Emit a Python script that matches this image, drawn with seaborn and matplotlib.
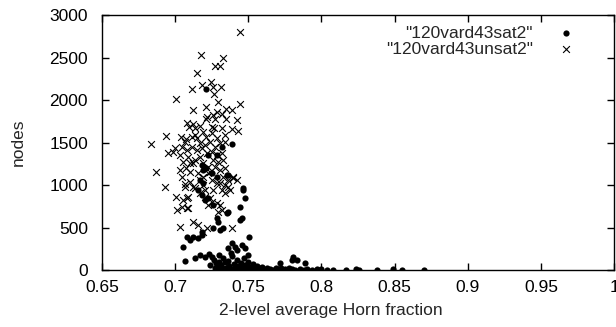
import pandas as pd
import matplotlib
matplotlib.use("Agg")
import matplotlib.pyplot as plt
import seaborn as sns

# "120vard43unsat2" points (Horn fraction, nodes)
unsat_x = [
    0.7443, 0.7174, 0.7324, 0.7147, 0.7272, 0.7306, 0.7113, 0.7181, 0.7243, 0.7260,
    0.7313, 0.7265, 0.7005, 0.7290, 0.7443, 0.7124, 0.7208, 0.7345, 0.7390, 0.7283,
    0.7322, 0.7215, 0.7256, 0.7208, 0.7272, 0.7083, 0.7124, 0.7169, 0.7345, 0.7424,
    0.7250, 0.7267, 0.7322, 0.7390, 0.7431, 0.7094, 0.7135, 0.6937, 0.7040, 0.7113,
    0.7074, 0.7147, 0.7208, 0.6833, 0.6999, 0.7044, 0.7067, 0.7135, 0.6953, 0.7033,
    0.7078, 0.7113, 0.7055, 0.7101, 0.7135, 0.7169, 0.7204, 0.7238, 0.7272, 0.7306,
    0.7340, 0.7215, 0.7250, 0.7283, 0.7317, 0.7260, 0.7294, 0.7328, 0.7272, 0.7306,
    0.7340, 0.7238, 0.7328, 0.7363, 0.7397, 0.7420, 0.7169, 0.7192, 0.7124, 0.7067,
    0.6930, 0.6867, 0.6987, 0.7003, 0.7014, 0.7044, 0.7090, 0.7033, 0.7124, 0.7158,
    0.7215, 0.7283, 0.7306, 0.7386, 0.7397, 0.7374, 0.7340, 0.7306, 0.7340, 0.7363,
    0.7169, 0.7204, 0.7238, 0.7250, 0.7226, 0.7055, 0.7078, 0.7090, 0.7078, 0.7192,
    0.7294, 0.7317, 0.7158, 0.7192, 0.7226, 0.7250, 0.7283, 0.7204, 0.7260, 0.7317,
    0.7226, 0.7192, 0.7169, 0.7147, 0.7181, 0.7090, 0.7124, 0.7283, 0.7249, 0.7192,
    0.7339, 0.7074, 0.7101, 0.7044, 0.7067, 0.7101, 0.7136, 0.7033,
]
unsat_y = [
    2804, 2529, 2498, 2321, 2404, 2404, 2126, 2176, 2215, 2149,
    2157, 2071, 2008, 1980, 1953, 1882, 1914, 1894, 1882, 1855,
    1835, 1804, 1824, 1773, 1773, 1733, 1718, 1694, 1773, 1765,
    1686, 1667, 1671, 1662, 1635, 1686, 1667, 1576, 1561, 1568,
    1537, 1549, 1568, 1482, 1431, 1451, 1510, 1588, 1373, 1353,
    1412, 1451, 1274, 1255, 1294, 1490, 1471, 1510, 1451, 1490,
    1510, 1373, 1392, 1353, 1373, 1294, 1274, 1294, 1216, 1176,
    1196, 1157, 1098, 1059, 1078, 1059, 1059, 1000, 980, 973,
    980, 1157, 1392, 863, 706, 745, 726, 510, 569, 529,
    490, 784, 765, 490, 1098, 941, 902, 1020, 1000, 980,
    902, 863, 843, 804, 765, 824, 843, 863, 726, 451,
    686, 706, 1137, 1098, 1137, 1059, 1020, 941, 941, 941,
    1216, 1255, 1333, 1412, 1431, 1333, 1255, 1549, 1608, 1627,
    1588, 1196, 1157, 1098, 1010, 1039, 961, 1176,
]

# "120vard43sat2" points
sat_x = [
    0.7210, 0.7322, 0.7386, 0.7283, 0.7181, 0.7208, 0.7169, 0.7192, 0.7250, 0.7283,
    0.7351, 0.7158, 0.7181, 0.7204, 0.7226, 0.7260, 0.7465, 0.7477, 0.7443, 0.7363,
    0.7351, 0.7283, 0.7294, 0.7328, 0.7260, 0.7454, 0.7443, 0.7181, 0.7078, 0.7101,
    0.7158, 0.7051, 0.7067, 0.7135, 0.7169, 0.7204, 0.7386, 0.7408, 0.7454, 0.7477,
    0.7499, 0.7506, 0.7363, 0.7420, 0.7124, 0.7181, 0.7306, 0.7226, 0.7192, 0.7363,
    0.7465,
    0.7807, 0.7796, 0.7830, 0.7716, 0.7887, 0.7932, 0.7970, 0.8000, 0.8035, 0.8076,
    0.8167, 0.8235, 0.8258, 0.8377, 0.8486, 0.8547, 0.8699,
    0.7230, 0.7250, 0.7265, 0.7280, 0.7290, 0.7300, 0.7310, 0.7320, 0.7330, 0.7340,
    0.7350, 0.7360, 0.7370, 0.7380, 0.7390, 0.7400, 0.7410, 0.7420, 0.7430, 0.7440,
    0.7450, 0.7460, 0.7470, 0.7480, 0.7490, 0.7500, 0.7510, 0.7520, 0.7530, 0.7540,
    0.7550, 0.7560, 0.7570, 0.7580, 0.7590, 0.7600, 0.7620, 0.7630, 0.7650, 0.7670,
    0.7690, 0.7700, 0.7720, 0.7740, 0.7750, 0.7770, 0.7780, 0.7800, 0.7820, 0.7850,
    0.7880, 0.7900, 0.7290, 0.7350, 0.7400, 0.7300, 0.7240, 0.7270, 0.7380, 0.7330,
    0.7360,
]
sat_y = [
    2126, 1451, 1482, 1353, 1235, 1196, 1059, 1020, 1137, 1098,
    1118, 941, 882, 824, 843, 765, 941, 843, 745, 686,
    667, 608, 569, 490, 490, 608, 588, 451, 392, 353,
    373, 267, 110, 137, 176, 157, 314, 275, 294, 255,
    176, 384, 255, 235, 392, 412, 471, 1353, 1176, 1118,
    961,
    157, 118, 118, 78, 78, 5, 10, 15, 5, 5,
    5, 8, 5, 5, 15, 5, 5,
    190, 150, 120, 80, 40, 100, 60, 20, 140, 90,
    30, 110, 50, 10, 160, 70, 25, 120, 45, 5,
    85, 30, 140, 60, 15, 100, 40, 10, 70, 25,
    5, 50, 20, 8, 35, 12, 5, 25, 10, 3,
    20, 8, 30, 5, 15, 3, 25, 10, 5, 8,
    3, 12, 10, 5, 3, 180, 60, 25, 200, 15,
    40,
]

x_ticks = [0.65, 0.7, 0.75, 0.8, 0.85, 0.9, 0.95, 1.0]
x_tick_labels = ["0.65", "0.7", "0.75", "0.8", "0.85", "0.9", "0.95", "1"]
y_ticks = [0, 500, 1000, 1500, 2000, 2500, 3000]

sat_df = pd.DataFrame({"x": sat_x, "y": sat_y})
unsat_df = pd.DataFrame({"x": unsat_x, "y": unsat_y})

sns.set_style("ticks")
plt.rcParams["font.family"] = ["Liberation Sans", "DejaVu Sans"]

fig = plt.figure(figsize=(6.16, 3.27), dpi=100)
ax = fig.add_axes([0.1656, 0.174, 0.8314, 0.78])

sns.scatterplot(data=sat_df, x="x", y="y", ax=ax, marker="o", color="black",
                s=20, linewidth=0, label='"120vard43sat2"')
sns.scatterplot(data=unsat_df, x="x", y="y", ax=ax, marker="x", color="black",
                s=24, linewidth=0.8, label='"120vard43unsat2"')

ax.set_xlim(0.65, 1.0)
ax.set_ylim(0, 3000)
ax.set_xticks(x_ticks)
ax.set_xticklabels(x_tick_labels)
ax.set_yticks(y_ticks)
ax.tick_params(direction="in", top=True, right=True, length=5, width=1,
               labelsize=12.5, colors="black")
ax.tick_params(axis="x", pad=7)
ax.tick_params(axis="y", pad=10)
for s in ax.spines.values():
    s.set_visible(True)
    s.set_linewidth(1)
    s.set_color("black")

ax.set_xlabel("2-level average Horn fraction", fontsize=12.5)
ax.set_ylabel("nodes", fontsize=12.5)
ax.xaxis.set_label_coords(0.447, -0.13)
ax.yaxis.set_label_coords(-0.148, 0.5)

ax.legend(loc="upper right", frameon=False, markerfirst=False, fontsize=12.5,
          handletextpad=0.9, labelspacing=0.05, borderaxespad=0.2,
          bbox_to_anchor=(0.96, 1.0))

fig.savefig("out.png", dpi=100)
